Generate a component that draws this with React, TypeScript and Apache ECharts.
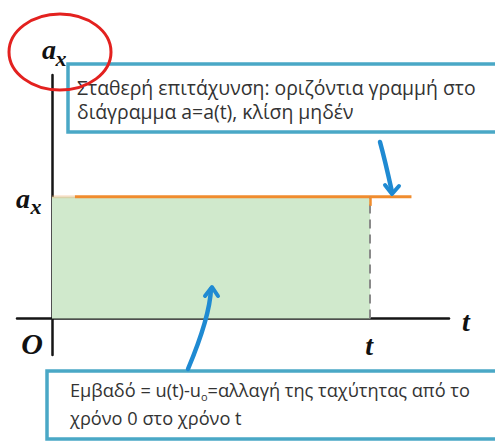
import React, { useEffect, useRef } from "react";
import * as echarts from "echarts";

// Values on the a–t diagram
const T_VALUE = 10; // the instant t
const AX_VALUE = 4; // constant acceleration a_x
const FADED_START = [0, AX_VALUE];
const LINE_START = [0.72, AX_VALUE];
const LINE_END = [11.3, AX_VALUE];
const AREA_POINTS = [
  [0, AX_VALUE],
  [T_VALUE, AX_VALUE],
];
const X_RANGE = [-1.1, 12.48];
const Y_RANGE = [-1.2, 8];

// Callout texts
const TOP_NOTE = "Σταθερή επιτάχυνση: οριζόντια γραμμή στο\nδιάγραμμα a=a(t), κλίση μηδέν";
const BOTTOM_NOTE = "{t|Εμβαδό = u(t)-u}{s|o}{t|=αλλαγή της ταχύτητας από το}\n{t|χρόνο 0 στο χρόνο t}";

const ORANGE = "#f08c2e";
const GREEN = "#d0e9cc";
const CYAN = "#4aa8c6";
const BLUE = "#1f8ad2";
const TEXT = "#333333";
const LABEL_FONT = "'Liberation Serif', 'DejaVu Serif', serif";
const NOTE_FONT = "'Open Sans', 'Noto Sans', sans-serif";

export default function App() {
  const ref = useRef<HTMLDivElement>(null);

  useEffect(() => {
    if (!ref.current) return;
    const chart = echarts.init(ref.current, null, { renderer: "svg" });

    chart.setOption({
      animation: false,
      backgroundColor: "#ffffff",
      grid: { left: 17, right: 46, top: 75, bottom: 86 },
      xAxis: {
        type: "value",
        min: X_RANGE[0],
        max: X_RANGE[1],
        axisLine: { show: true, onZero: true, lineStyle: { color: "#151515", width: 2.5 } },
        axisTick: { show: false },
        axisLabel: { show: false },
        splitLine: { show: false },
      },
      yAxis: {
        type: "value",
        min: Y_RANGE[0],
        max: Y_RANGE[1],
        axisLine: { show: true, onZero: true, lineStyle: { color: "#151515", width: 2.5 } },
        axisTick: { show: false },
        axisLabel: { show: false },
        splitLine: { show: false },
      },
      series: [
        {
          // area under a(t) between 0 and t
          type: "line",
          data: AREA_POINTS,
          symbol: "none",
          lineStyle: { width: 0 },
          areaStyle: { color: GREEN, opacity: 1, origin: 0 },
          z: 1,
          markLine: {
            silent: true,
            symbol: "none",
            label: { show: false },
            data: [
              [
                { coord: [T_VALUE, 0], lineStyle: { color: "#8a8a8a", width: 2, type: [9, 6] } },
                { coord: [T_VALUE, AX_VALUE] },
              ],
              [
                { coord: [T_VALUE, AX_VALUE], lineStyle: { color: ORANGE, width: 2.5, type: "solid" } },
                { coord: [T_VALUE, AX_VALUE - 0.3] },
              ],
            ],
          },
        },
        {
          // faded beginning of a(t) near the vertical axis
          type: "line",
          data: [FADED_START, LINE_START],
          symbol: "none",
          z: 3,
          lineStyle: { width: 3, color: "rgba(240,160,90,0.3)" },
        },
        {
          // a(t) = a_x
          type: "line",
          data: [LINE_START, LINE_END],
          symbol: "none",
          z: 3,
          lineStyle: { width: 3, color: ORANGE },
        },
      ],
    });

    const px = (p: number[]) => chart.convertToPixel({ gridIndex: 0 }, p) as number[];
    const origin = px([0, 0]);
    const top = px([0, Y_RANGE[1]]);
    const axRow = px([0, AX_VALUE]);
    const tCol = px([T_VALUE, 0]);
    const xEnd = px([X_RANGE[1], 0]);

    const serif = (text: string, x: number, y: number, size: number) => ({
      type: "text",
      x,
      y,
      z: 20,
      style: {
        text,
        fill: "#111",
        font: `italic bold ${size}px ${LABEL_FONT}`,
        align: "center",
        verticalAlign: "middle",
      },
    });

    // callout frame, open on the right where it runs past the edge
    const frame = (x: number, y: number, h: number) => ({
      type: "polyline",
      z: 10,
      shape: { points: [[520, y], [x, y], [x, y + h], [520, y + h]] },
      style: { fill: "#ffffff", stroke: CYAN, lineWidth: 3.5 },
    });

    chart.setOption({
      graphic: [
        // axis labels
        serif("a", top[0] - 3, top[1] - 26, 28),
        serif("x", top[0] + 9, top[1] - 17, 22),
        serif("a", axRow[0] - 29, axRow[1] + 2, 28),
        serif("x", axRow[0] - 16, axRow[1] + 10, 22),
        serif("O", origin[0] - 20, origin[1] + 25, 30),
        serif("t", xEnd[0] + 17, xEnd[1] + 3, 28),
        serif("t", tCol[0] - 1, tCol[1] + 27, 28),
        // upper callout
        {
          type: "rect",
          z: 9,
          shape: { x: 68, y: 64, width: 460, height: 68 },
          style: { fill: "#ffffff" },
        },
        frame(68, 64, 68),
        {
          type: "text",
          z: 11,
          x: 77,
          y: 99,
          style: {
            text: TOP_NOTE,
            fontFamily: NOTE_FONT,
            fontSize: 19.4,
            lineHeight: 24,
            fill: TEXT,
            verticalAlign: "middle",
          },
        },
        // lower callout
        {
          type: "rect",
          z: 9,
          shape: { x: 47, y: 371, width: 480, height: 68 },
          style: { fill: "#ffffff" },
        },
        frame(47, 371, 68),
        {
          type: "text",
          z: 11,
          x: 70,
          y: 404,
          style: {
            text: BOTTOM_NOTE,
            verticalAlign: "middle",
            rich: {
              t: { fontFamily: NOTE_FONT, fontSize: 18.2, fill: TEXT, lineHeight: 28 },
              s: { fontFamily: NOTE_FONT, fontSize: 11, fill: TEXT, lineHeight: 28, padding: [12, 0, 0, 0] },
            },
          },
        },
        // pointer to the horizontal line
        {
          type: "bezierCurve",
          z: 12,
          shape: { x1: 380, y1: 142, cpx1: 385, cpy1: 160, x2: 392, y2: 192 },
          style: { stroke: BLUE, lineWidth: 4.5, fill: "none", lineCap: "round" },
        },
        {
          type: "polyline",
          z: 12,
          shape: { points: [[385, 185], [392, 194], [399, 186]] },
          style: { stroke: BLUE, lineWidth: 4, fill: "none", lineCap: "round", lineJoin: "round" },
        },
        // pointer to the area
        {
          type: "bezierCurve",
          z: 12,
          shape: { x1: 188, y1: 369, cpx1: 201, cpy1: 338, cpx2: 210, cpy2: 312, x2: 211, y2: 289 },
          style: { stroke: BLUE, lineWidth: 4.5, fill: "none", lineCap: "round" },
        },
        {
          type: "polyline",
          z: 12,
          shape: { points: [[205, 296], [212, 287], [218, 296]] },
          style: { stroke: BLUE, lineWidth: 4, fill: "none", lineCap: "round", lineJoin: "round" },
        },
        // highlight ring round the vertical-axis label
        {
          type: "ellipse",
          z: 15,
          shape: { cx: 60, cy: 52, rx: 51, ry: 38 },
          style: { fill: "none", stroke: "#e3211f", lineWidth: 3 },
        },
      ],
    });

    return () => chart.dispose();
  }, []);

  return <div ref={ref} style={{ width: 495, height: 441, position: "absolute", left: 0, top: 0 }} />;
}
